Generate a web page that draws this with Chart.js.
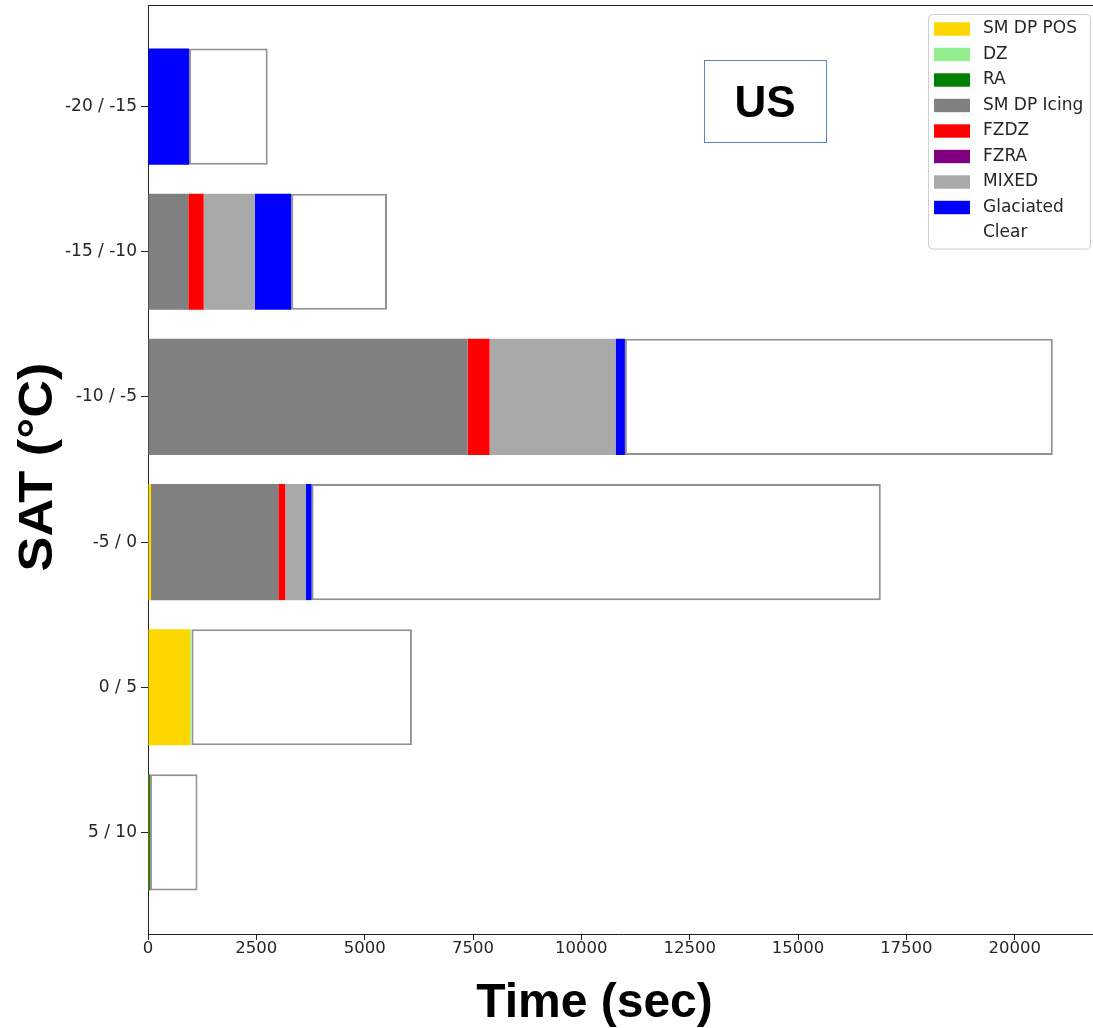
<!DOCTYPE html>
<html>
<head>
<meta charset="utf-8">
<title>SAT vs Time - US</title>
<script src="https://cdn.jsdelivr.net/npm/chart.js@4.4.0/dist/chart.umd.min.js"></script>
<style>
  html, body { margin: 0; padding: 0; background: #fff; overflow: hidden; }
  #wrap { position: absolute; left: 0; top: 0; width: 1100px; height: 1028px; }
</style>
</head>
<body>
<div id="wrap"><canvas id="chart" width="1100" height="1028"></canvas></div>
<script>
// Temperature bins (top to bottom)
const categories = ['-20 / -15', '-15 / -10', '-10 / -5', '-5 / 0', '0 / 5', '5 / 10'];

// Time spent in each condition, seconds, per temperature bin
const smDpPos    = [0, 0, 0, 70, 975, 20];
const dz         = [0, 0, 0, 0, 30, 0];
const ra         = [0, 0, 0, 0, 0, 25];
const smDpIcing  = [0, 930, 7375, 2937, 0, 0];
const fzdz       = [0, 355, 508, 161, 0, 0];
const fzra       = [0, 0, 0, 0, 0, 0];
const mixed      = [0, 1177, 2907, 470, 0, 0];
const glaciated  = [946, 845, 215, 138, 0, 0];
const clear      = [1816, 2208, 9874, 13134, 5085, 1097];

const xTicks = [0, 2500, 5000, 7500, 10000, 12500, 15000, 17500, 20000];
const xMax = 21922;

const seriesNames  = ['SM DP POS', 'DZ', 'RA', 'SM DP Icing', 'FZDZ', 'FZRA', 'MIXED', 'Glaciated', 'Clear'];
const seriesValues = [smDpPos, dz, ra, smDpIcing, fzdz, fzra, mixed, glaciated, clear];
const seriesColors = ['#FFD700', '#90EE90', '#008000', '#808080', '#FF0000', '#800080', '#A9A9A9', '#0000FF', '#FFFFFF'];

const datasets = seriesNames.map((name, k) => {
  const isClear = name === 'Clear';
  return {
    label: name,
    data: seriesValues[k].map((v, i) => ({ x: v, y: i })),
    backgroundColor: seriesColors[k],
    borderColor: isClear ? '#929292' : seriesColors[k],
    borderWidth: isClear ? 2 : 0,
    borderSkipped: false,
    barPercentage: 1.0,
    categoryPercentage: 0.8
  };
});

const TICK_FONT = 'DejaVu Sans';
const TITLE_FONT = 'Liberation Sans, Arial, sans-serif';

const decorations = {
  id: 'decorations',
  afterDraw(chart) {
    const { ctx, chartArea: a } = chart;
    ctx.save();

    // top frame line
    ctx.strokeStyle = '#222';
    ctx.lineWidth = 1;
    ctx.beginPath();
    ctx.moveTo(a.left, Math.round(a.top) + 0.5);
    ctx.lineTo(a.right, Math.round(a.top) + 0.5);
    ctx.stroke();

    // legend box
    const lx = 928.5, ly = 14.5, lw = 162, lh = 234.5, r = 4;
    ctx.beginPath();
    ctx.moveTo(lx + r, ly);
    ctx.lineTo(lx + lw - r, ly);
    ctx.quadraticCurveTo(lx + lw, ly, lx + lw, ly + r);
    ctx.lineTo(lx + lw, ly + lh - r);
    ctx.quadraticCurveTo(lx + lw, ly + lh, lx + lw - r, ly + lh);
    ctx.lineTo(lx + r, ly + lh);
    ctx.quadraticCurveTo(lx, ly + lh, lx, ly + lh - r);
    ctx.lineTo(lx, ly + r);
    ctx.quadraticCurveTo(lx, ly, lx + r, ly);
    ctx.closePath();
    ctx.fillStyle = 'rgba(255,255,255,0.85)';
    ctx.fill();
    ctx.strokeStyle = '#d0d0d0';
    ctx.lineWidth = 1;
    ctx.stroke();

    ctx.font = '17px ' + TICK_FONT;
    ctx.textAlign = 'left';
    ctx.textBaseline = 'middle';
    chart.data.datasets.forEach((ds, i) => {
      const cy = 29 + i * 25.5;
      ctx.fillStyle = ds.backgroundColor;
      ctx.fillRect(934, cy - 6.7, 36, 13.4);
      ctx.fillStyle = '#262626';
      ctx.fillText(ds.label, 983, cy);
    });

    // region label
    ctx.strokeStyle = '#5b84c8';
    ctx.lineWidth = 1;
    ctx.strokeRect(704.5, 60.5, 122, 82);
    ctx.fillStyle = '#000';
    ctx.font = 'bold 44px ' + TITLE_FONT;
    ctx.textAlign = 'center';
    ctx.textBaseline = 'alphabetic';
    ctx.fillText('US', 765, 117);

    // axis titles
    ctx.font = 'bold 48px ' + TITLE_FONT;
    ctx.fillText('Time (sec)', 594.5, 1017);
    ctx.translate(51.5, 467);
    ctx.rotate(-Math.PI / 2);
    ctx.scale(1.09, 1);
    ctx.fillText('SAT (°C)', 0, 0);

    ctx.restore();
  }
};

new Chart(document.getElementById('chart'), {
  type: 'bar',
  data: { datasets },
  options: {
    indexAxis: 'y',
    responsive: false,
    animation: false,
    layout: { padding: { top: 5, right: 2, left: 0, bottom: 0 } },
    plugins: {
      legend: { display: false },
      tooltip: { enabled: false }
    },
    scales: {
      x: {
        type: 'linear',
        stacked: true,
        min: 0,
        max: xMax,
        afterBuildTicks: (scale) => { scale.ticks = xTicks.map(v => ({ value: v })); },
        afterFit: (scale) => { scale.height = 94; },
        grid: { drawOnChartArea: false, drawTicks: true, tickLength: 6, tickColor: '#222' },
        border: { display: true, color: '#222', width: 1 },
        ticks: {
          color: '#262626',
          padding: -1,
          maxRotation: 0,
          font: { family: TICK_FONT, size: 16.5 },
          callback: (v) => String(v)
        }
      },
      y: {
        type: 'linear',
        stacked: true,
        reverse: true,
        offset: false,
        min: -0.70,
        max: 5.70,
        afterBuildTicks: (scale) => { scale.ticks = categories.map((_, i) => ({ value: i })); },
        afterFit: (scale) => {
          scale.width = 148;
          scale.paddingTop = 0;
          scale.paddingBottom = 0;
        },
        grid: { offset: false, drawOnChartArea: false, drawTicks: true, tickLength: 7, tickColor: '#222' },
        border: { display: true, color: '#222', width: 1 },
        ticks: {
          color: '#262626',
          padding: 4,
          font: { family: TICK_FONT, size: 17 },
          callback: (v) => categories[v] !== undefined ? categories[v] : ''
        }
      }
    }
  },
  plugins: [decorations]
});
</script>
</body>
</html>
